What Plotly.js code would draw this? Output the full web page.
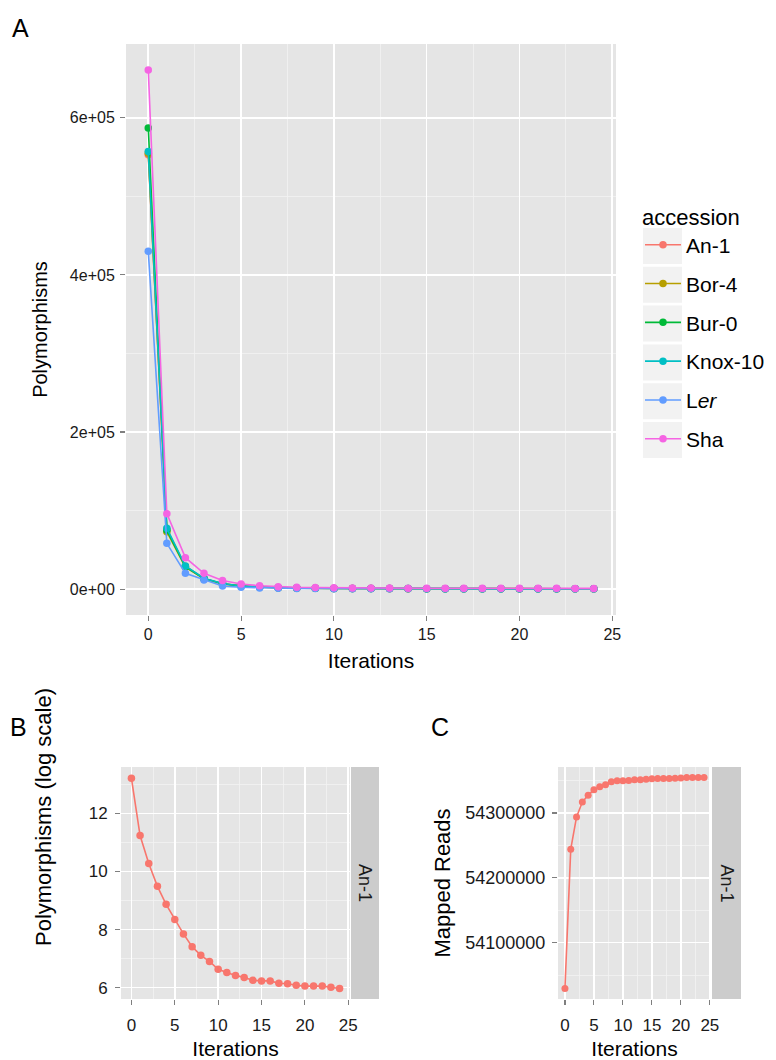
<!DOCTYPE html>
<html>
<head>
<meta charset="utf-8">
<script src="https://cdn.plot.ly/plotly-3.0.1.min.js"></script>
<style>
  html, body { margin: 0; padding: 0; background: #ffffff; }
  #chart { width: 776px; height: 1060px; }
</style>
</head>
<body>
<div id="chart"></div>
<script>
// ---------------- DATA ----------------
const iterations = [0,1,2,3,4,5,6,7,8,9,10,11,12,13,14,15,16,17,18,19,20,21,22,23,24];

const accessions = ["An-1", "Bor-4", "Bur-0", "Knox-10", "L<i>er</i>", "Sha"];

const polyAn1   = [553000, 76100, 29200, 13200, 7100, 4230, 2570, 1650, 1225, 990, 757, 679, 614, 573, 518, 508, 508, 469, 460, 437, 424, 424, 424, 408, 392];
const polyBor4  = [555000, 73000, 28000, 13000, 6500, 3800, 2400, 1600, 1200, 950, 800, 700, 640, 600, 560, 540, 520, 500, 490, 480, 470, 460, 455, 450, 445];
const polyBur0  = [587000, 75000, 28500, 13500, 6800, 3900, 2500, 1700, 1300, 1000, 850, 750, 680, 630, 590, 560, 540, 520, 505, 495, 485, 478, 470, 465, 460];
const polyKnox10= [557000, 77500, 29500, 13800, 7000, 4000, 2600, 1750, 1300, 1050, 880, 770, 700, 650, 610, 580, 560, 540, 525, 515, 505, 495, 490, 485, 480];
const polyLer   = [430000, 58200, 20000, 11500, 4000, 2300, 1500, 1050, 800, 650, 560, 500, 460, 430, 410, 395, 385, 378, 372, 368, 365, 362, 360, 358, 356];
const polySha   = [661000, 96000, 40000, 20000, 10800, 6400, 4300, 3100, 2400, 2000, 1700, 1500, 1350, 1250, 1150, 1100, 1050, 1000, 970, 950, 930, 910, 900, 890, 880];

const logPolyAn1 = [13.22, 11.24, 10.28, 9.49, 8.87, 8.35, 7.85, 7.41, 7.11, 6.90, 6.63, 6.52, 6.42, 6.35, 6.25, 6.23, 6.23, 6.15, 6.13, 6.08, 6.05, 6.05, 6.05, 6.01, 5.97];

const mappedReadsAn1 = [54029400, 54244200, 54293900, 54316900, 54327600, 54335800, 54340400, 54343500, 54348100, 54349600, 54349600, 54350100, 54351200, 54351200, 54352200, 54352700, 54353200, 54353200, 54353200, 54353700, 54354200, 54354700, 54354700, 54354700, 54354700];

const xTickVals = [0, 5, 10, 15, 20, 25];
const aYTickVals = [0, 200000, 400000, 600000];
const aYTickText = ["0e+00", "2e+05", "4e+05", "6e+05"];
const bYTickVals = [6, 8, 10, 12];
const cYTickVals = [54100000, 54200000, 54300000];
const cYTickText = ["54100000", "54200000", "54300000"];
const facetLabel = "An-1";

// ---------------- STYLE ----------------
const colors = ["#F8766D", "#B79F00", "#00BA38", "#00BFC4", "#619CFF", "#F564E3"];
const FONT = "Liberation Sans, Arial, Helvetica, sans-serif";
const W = 776, H = 1060;
const px = v => v / W;
const py = v => 1 - v / H;

const seriesA = [polyAn1, polyBor4, polyBur0, polyKnox10, polyLer, polySha];

const traces = seriesA.map((ys, i) => ({
  type: "scatter",
  mode: "lines+markers",
  x: iterations,
  y: ys,
  name: accessions[i],
  legendgroup: "g" + i,
  line: { color: colors[i], width: 1.6 },
  marker: { color: colors[i], size: 7.5 },
  xaxis: "x", yaxis: "y"
}));

traces.push({
  type: "scatter", mode: "lines+markers",
  x: iterations, y: logPolyAn1,
  line: { color: colors[0], width: 1.6 },
  marker: { color: colors[0], size: 7.5 },
  xaxis: "x2", yaxis: "y2", showlegend: false
});
traces.push({
  type: "scatter", mode: "lines+markers",
  x: iterations, y: mappedReadsAn1,
  line: { color: colors[0], width: 1.6 },
  marker: { color: colors[0], size: 7 },
  xaxis: "x3", yaxis: "y3", showlegend: false
});

function axisBase(fs) {
  return {
    showgrid: true, gridcolor: "#FFFFFF", gridwidth: 1.6,
    zeroline: false, showline: false,
    ticks: "outside", ticklen: 5, tickwidth: 1.1, tickcolor: "#7F7F7F",
    tickfont: { family: FONT, size: fs, color: "#1a1a1a" },
    fixedrange: true
  };
}
function minorGrid(t0, dt) {
  return { tick0: t0, dtick: dt, showgrid: true, gridcolor: "#F2F2F2", gridwidth: 0.8, ticks: "" };
}

const aDom = { x: [px(126), px(616)], y: [py(615), py(44)] };
const bDom = { x: [px(121), px(350)], y: [py(999), py(767)] };
const cDom = { x: [px(558), px(711)], y: [py(999), py(767)] };

const layout = {
  width: W, height: H,
  margin: { l: 0, r: 0, t: 0, b: 0 },
  paper_bgcolor: "#FFFFFF",
  plot_bgcolor: "#E5E5E5",
  font: { family: FONT, color: "#000000" },
  showlegend: true,
  legend: {
    x: px(640), y: py(196), xanchor: "left", yanchor: "top",
    bgcolor: "rgba(0,0,0,0)", borderwidth: 0,
    font: { family: FONT, size: 21, color: "#000000" },
    title: { text: "accession", font: { family: FONT, size: 22 } },
    itemwidth: 36,
    tracegroupgap: 8.5, traceorder: "grouped",
    itemclick: false, itemdoubleclick: false
  },
  xaxis: Object.assign(axisBase(16), {
    domain: aDom.x, anchor: "y", range: [-1.2, 25.2], tickvals: xTickVals,
    minor: minorGrid(2.5, 5),
    title: { text: "Iterations", font: { family: FONT, size: 21 }, standoff: 11 }
  }),
  yaxis: Object.assign(axisBase(16), {
    domain: aDom.y, anchor: "x", range: [-33000, 694000],
    tickvals: aYTickVals, ticktext: aYTickText, ticklabelstandoff: 2,
    minor: minorGrid(100000, 200000),
    title: { text: "Polymorphisms", font: { family: FONT, size: 20 }, standoff: 16 }
  }),
  xaxis2: Object.assign(axisBase(17), {
    domain: bDom.x, anchor: "y2", range: [-1.2, 25.2], tickvals: xTickVals,
    ticklabelstandoff: 6,
    minor: minorGrid(2.5, 5),
    title: { text: "Iterations", font: { family: FONT, size: 21 }, standoff: 6 }
  }),
  yaxis2: Object.assign(axisBase(17), {
    domain: bDom.y, anchor: "x2", range: [5.606, 13.604], tickvals: bYTickVals,
    ticklabelstandoff: 4,
    minor: minorGrid(7, 2)
  }),
  xaxis3: Object.assign(axisBase(17), {
    domain: cDom.x, anchor: "y3", range: [-1.2, 25.2], tickvals: xTickVals,
    ticklabelstandoff: 6,
    minor: minorGrid(2.5, 5),
    title: { text: "Iterations", font: { family: FONT, size: 21 }, standoff: 6 }
  }),
  yaxis3: Object.assign(axisBase(18), {
    domain: cDom.y, anchor: "x3", range: [54013100, 54371000],
    tickvals: cYTickVals, ticktext: cYTickText, ticklabelstandoff: 3,
    minor: minorGrid(54050000, 100000),
    title: { text: "Mapped Reads", font: { family: FONT, size: 22 }, standoff: 8 }
  }),
  shapes: [],
  annotations: []
};

// y-axis title of panel B (placed as in the reference, above the panel centre)
layout.annotations.push({
  xref: "paper", yref: "paper", x: px(43), y: py(817),
  text: "Polymorphisms (log scale)", textangle: -90, showarrow: false,
  xanchor: "center", yanchor: "middle",
  font: { family: FONT, size: 22, color: "#000000" }
});

// facet strips
[[351, 379, bDom], [712, 741, cDom]].forEach(([x0, x1, dom]) => {
  layout.shapes.push({
    type: "rect", xref: "paper", yref: "paper",
    x0: px(x0), x1: px(x1), y0: dom.y[0], y1: dom.y[1],
    fillcolor: "#CCCCCC", line: { width: 0 }, layer: "below"
  });
  layout.annotations.push({
    xref: "paper", yref: "paper", x: px((x0 + x1) / 2), y: (dom.y[0] + dom.y[1]) / 2,
    text: facetLabel, textangle: 90, showarrow: false,
    font: { family: FONT, size: 18, color: "#1a1a1a" },
    xanchor: "center", yanchor: "middle"
  });
});

// legend key backgrounds
for (let i = 0; i < accessions.length; i++) {
  const cy = 246 + i * 38.8;
  layout.shapes.push({
    type: "rect", xref: "paper", yref: "paper",
    x0: px(643), x1: px(682), y0: py(cy + 18), y1: py(cy - 18),
    fillcolor: "#F2F2F2", line: { width: 0 }, layer: "below"
  });
}

// panel letters
[["A", 20, 28], ["B", 18, 727], ["C", 440, 727]].forEach(([t, x, y]) => {
  layout.annotations.push({
    xref: "paper", yref: "paper", x: px(x), y: py(y),
    text: t, showarrow: false, xanchor: "center", yanchor: "middle",
    font: { family: FONT, size: 25, color: "#000000" }
  });
});

Plotly.newPlot("chart", traces, layout, { displayModeBar: false, staticPlot: true });
</script>
</body>
</html>
